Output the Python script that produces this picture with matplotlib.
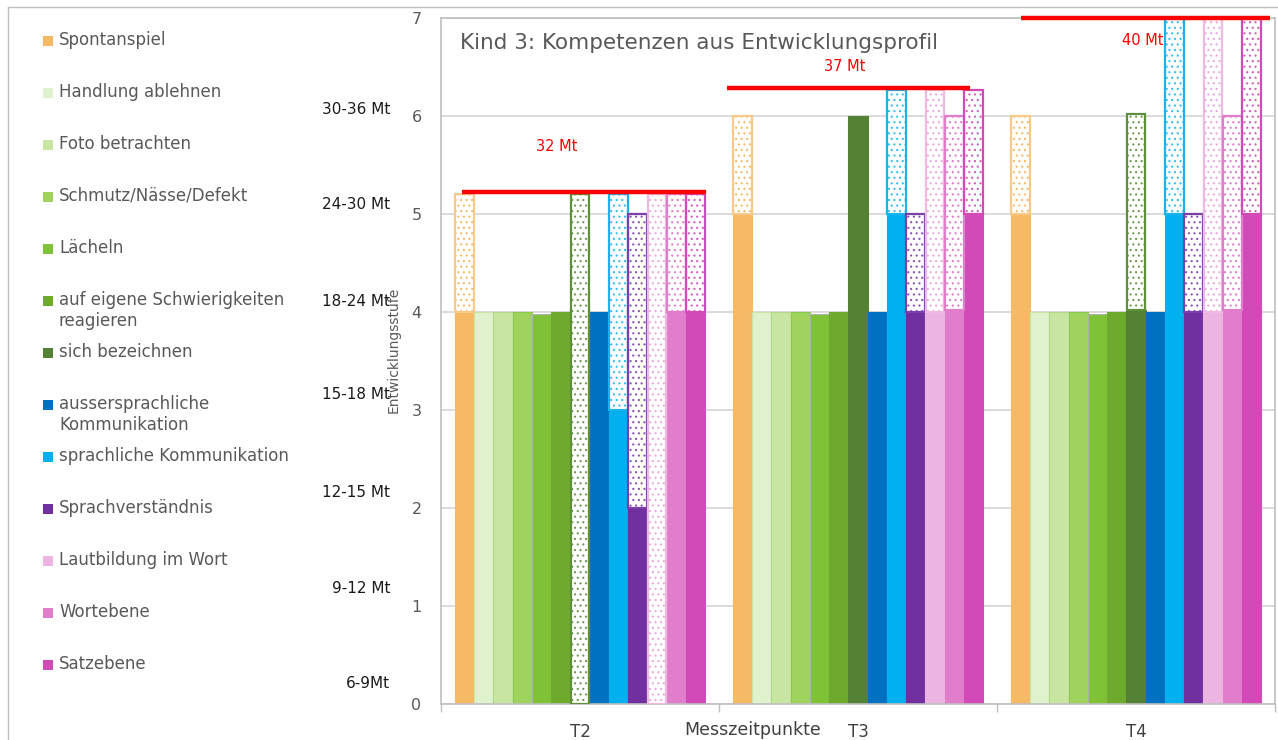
import numpy as np
import matplotlib
matplotlib.use("Agg")
import matplotlib.pyplot as plt
from matplotlib.patches import Rectangle
from matplotlib.lines import Line2D
import matplotlib.transforms as mtrans

# ---------------- data ----------------
categories = ["Spontanspiel", "Handlung ablehnen", "Foto betrachten",
              "Schmutz/Nässe/Defekt", "Lächeln",
              "auf eigene Schwierigkeiten\nreagieren", "sich bezeichnen",
              "aussersprachliche\nKommunikation", "sprachliche Kommunikation",
              "Sprachverständnis", "Lautbildung im Wort", "Wortebene", "Satzebene"]
timepoints = ["T2", "T3", "T4"]

# solid part (reached level) per timepoint
solid_T2 = [4, 4, 4, 4, 3.98, 4, 0, 4, 3, 2, 0, 4, 4]
solid_T3 = [5, 4, 4, 4, 3.98, 4, 6, 4, 5, 4, 4, 4.02, 5]
solid_T4 = [5, 4, 4, 4, 3.98, 4, 4.02, 4, 5, 4, 4, 4.02, 5]
# top of dotted part (partly reached), nan = none
nan = np.nan
upper_T2 = [5.2, nan, nan, nan, nan, nan, 5.2, nan, 5.2, 5.0, 5.2, 5.2, 5.2]
upper_T3 = [6.0, nan, nan, nan, nan, nan, nan, nan, 6.27, 5.0, 6.27, 6.0, 6.27]
upper_T4 = [6.0, nan, nan, nan, nan, nan, 6.02, nan, 7.0, 5.0, 7.0, 6.0, 7.0]

solids = [solid_T2, solid_T3, solid_T4]
uppers = [upper_T2, upper_T3, upper_T4]

# age reference (red lines)
ref_labels = ["32 Mt", "37 Mt", "40 Mt"]
ref_level = [5.22, 6.29, 7.0]
ref_start = [0.076, 1.029, 2.086]
ref_end = [0.953, 1.903, 2.982]
ref_label_x = [0.417, 1.453, 2.525]
ref_label_y = [5.69, 6.51, 6.77]

# age bands at left
age_labels = ["30-36 Mt", "24-30 Mt", "18-24 Mt", "15-18 Mt", "12-15 Mt", "9-12 Mt", "6-9Mt"]
age_label_y = [6.07, 5.10, 4.11, 3.16, 2.16, 1.18, 0.21]

yticks = [0, 1, 2, 3, 4, 5, 6, 7]

# ---------------- styles ----------------
colors = ["#F6B966", "#E0F1CE", "#C8E5A2", "#9FD35E", "#80C236", "#6EAA2E",
          "#548235", "#0070C0", "#00B0EF", "#7030A0", "#ECB4E1", "#E07ECC", "#D14AB8"]
solid_edges = ["#F6B966", "#C8E5A2", "#B0DA85", "#8CC84A", "#B0B0B0", "#6EAA2E",
               "#548235", "#0070C0", "#00B0EF", "#7030A0", "#ECB4E1", "#E07ECC", "#D14AB8"]
dot_edges = ["#F9C98A", "#E0F1CE", "#C8E5A2", "#9FD35E", "#80C236", "#6EAA2E",
             "#5E8F3A", "#1E6FB8", "#1AB4EC", "#7A3FA8", "#EEB9E3", "#E07ECC", "#D14AB8"]
dot_fill = ["#F6B966", "#E0F1CE", "#C8E5A2", "#9FD35E", "#80C236", "#6EAA2E",
            "#6F9A4F", "#0070C0", "#33BFF2", "#8A55B5", "#E9A9DC", "#E07ECC", "#D45CBE"]

W, H = 1278, 740
plt.rcParams["font.family"] = ["DejaVu Sans"]
plt.rcParams["hatch.linewidth"] = 0.8
fig = plt.figure(figsize=(W / 100, H / 100), dpi=100)
fig.patch.set_facecolor("white")

ax_l, ax_r, ax_t, ax_b = 441, 1275, 18, 704
ax = fig.add_axes([ax_l / W, 1 - ax_b / H, (ax_r - ax_l) / W, (ax_b - ax_t) / H])

n = len(categories)
w = 0.9 / n
for g in range(len(timepoints)):
    for i in range(n):
        xc = g + 0.5 + (i - (n - 1) / 2) * w
        s = solids[g][i]
        if s > 0:
            ax.bar(xc, s, width=w, color=colors[i], edgecolor=solid_edges[i],
                   linewidth=0.8, zorder=2)
        u = uppers[g][i]
        if not np.isnan(u):
            # dotted fill
            ax.bar(xc, u - s, bottom=s, width=w * 0.97, facecolor="white",
                   edgecolor=dot_fill[i], hatch="...", linewidth=0, zorder=3)
            # outline
            ax.bar(xc, u - s, bottom=s, width=w * 0.97, facecolor="none",
                   edgecolor=dot_edges[i], linewidth=1.6, zorder=3.5)

for k in range(len(ref_labels)):
    ax.plot([ref_start[k], ref_end[k]], [ref_level[k], ref_level[k]], color="#FF0000",
            lw=3.2, solid_capstyle="butt", zorder=4, clip_on=False)
    ax.text(ref_label_x[k], ref_label_y[k], ref_labels[k], color="#FF0000",
            fontsize=10.5, ha="center", va="center", zorder=1)

ax.set_xlim(0, 3)
ax.set_ylim(0, 7)
ax.set_yticks(yticks)
ax.tick_params(axis="y", length=0, pad=14, labelsize=11.5, labelcolor="#595959")
ax.set_xticks([0.5, 1.5, 2.5])
ax.set_xticklabels(timepoints)
ax.tick_params(axis="x", which="major", length=0, pad=14, labelsize=12, labelcolor="#404040")
ax.set_xticks([0, 1, 2, 3], minor=True)
ax.tick_params(axis="x", which="minor", length=6, width=1, color="#BFBFBF", direction="out")
ax.set_axisbelow(True)
ax.yaxis.grid(True, color="#D9D9D9", lw=1.3)
for sp in ax.spines.values():
    sp.set_color("#BFBFBF")
    sp.set_linewidth(1.2)

ax.text(0.023, 0.963, "Kind 3: Kompetenzen aus Entwicklungsprofil", transform=ax.transAxes,
        fontsize=15.5, color="#595959", ha="left", va="center", zorder=5)

ax.set_xlabel("Messzeitpunkte", fontsize=12.5, color="#404040")
ax.xaxis.set_label_coords((753 - ax_l) / (ax_r - ax_l), -0.025)
ax.set_ylabel("Entwicklungsstufe", fontsize=10, color="#595959")
ax.yaxis.set_label_coords((401 - ax_l) / (ax_r - ax_l), (704 - 350) / (ax_b - ax_t))

# age band labels
bt = mtrans.blended_transform_factory(fig.transFigure, ax.transData)
for lab, yv in zip(age_labels, age_label_y):
    ax.text(390 / W, yv, lab, transform=bt, ha="right", va="center",
            fontsize=11, color="#1A1A1A", clip_on=False)

# manual legend
y0, dy = 41, 52
for i, lab in enumerate(categories):
    yc = y0 + i * dy
    fig.add_artist(Rectangle((43 / W, 1 - (yc + 5) / H), 10 / W, 10 / H,
                             transform=fig.transFigure, facecolor=colors[i],
                             edgecolor="none"))
    fig.text(59 / W, 1 - (yc - 10) / H, lab, ha="left", va="top", fontsize=12,
             color="#595959", linespacing=1.2)

# outer frame
fig.add_artist(Line2D([8 / W, 8 / W], [0, 1 - 7 / H], transform=fig.transFigure,
                      color="#BFBFBF", lw=1))
fig.add_artist(Line2D([8 / W, 1], [1 - 7 / H, 1 - 7 / H], transform=fig.transFigure,
                      color="#BFBFBF", lw=1))

fig.savefig("out.png", dpi=100, facecolor="white")
